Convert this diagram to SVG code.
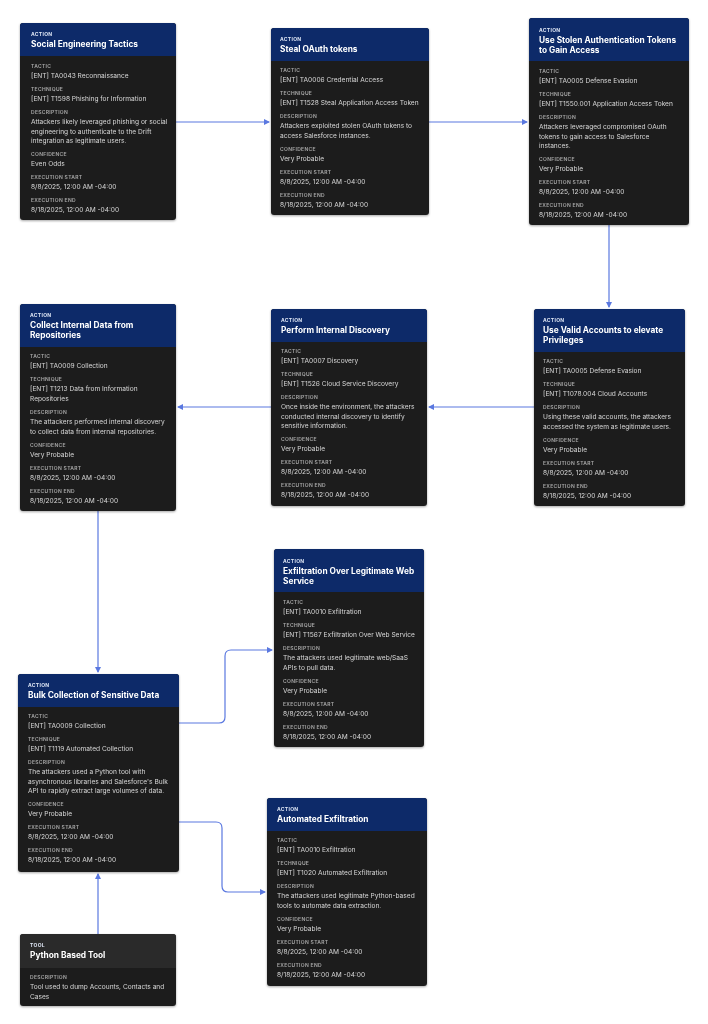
<svg xmlns="http://www.w3.org/2000/svg" width="708" height="1024" viewBox="0 0 708 1024">
<style>
.bg{fill:#1f1f1f}
.hd{fill:#0c2a69}
.th{fill:#2c2c2c}
.k{font-family:Inter,"Liberation Sans",sans-serif;font-size:5px;font-weight:600;fill:#a8a8a8;letter-spacing:.3px}
.kh{font-family:Inter,"Liberation Sans",sans-serif;font-size:5px;font-weight:700;fill:#dfe6f5;letter-spacing:.3px}
.t{font-family:Inter,"Liberation Sans",sans-serif;font-size:8.3px;font-weight:700;fill:#ffffff}
.v{font-family:Inter,"Liberation Sans",sans-serif;font-size:6.6px;fill:#d6d6d6}
.c{fill:none;stroke:#5a78e0;stroke-width:1.2}
</style>
<defs>
<marker id="a" viewBox="0 0 6 6" refX="5" refY="3" markerWidth="5" markerHeight="5" orient="auto"><path d="M0,0L6,3L0,6z" fill="#5a78e0"/></marker>
<filter id="s" x="-10%" y="-10%" width="120%" height="120%"><feDropShadow dx="0" dy="1" stdDeviation="1.2" flood-opacity="0.35"/></filter>
</defs>
<rect width="708" height="1024" fill="#ffffff"/>
<g id="connectors">
<path class="c" d="M176,122H269" marker-end="url(#a)"/>
<path class="c" d="M429,122H527" marker-end="url(#a)"/>
<path class="c" d="M609,225V307" marker-end="url(#a)"/>
<path class="c" d="M534,407H429" marker-end="url(#a)"/>
<path class="c" d="M271,407H178" marker-end="url(#a)"/>
<path class="c" d="M98,511V672" marker-end="url(#a)"/>
<path class="c" d="M179,723H219Q225,723 225,717V656Q225,650 231,650H272" marker-end="url(#a)"/>
<path class="c" d="M179,822H216Q222,822 222,828V886Q222,892 228,892H265" marker-end="url(#a)"/>
<path class="c" d="M98,934V874" marker-end="url(#a)"/>
</g>
<g id="n1" filter="url(#s)">
<rect class="bg" x="20" y="23" width="156" height="197" rx="3"/>
<path class="hd" d="M23,23H173Q176,23 176,26V56H20V26Q20,23 23,23z"/>
<text class="kh" x="31" y="36">ACTION</text><text class="t" x="31" y="47">Social Engineering Tactics</text>
<text class="k" x="31" y="68">TACTIC</text><text class="v" x="31" y="78">[ENT] TA0043 Reconnaissance</text>
<text class="k" x="31" y="91">TECHNIQUE</text><text class="v" x="31" y="101">[ENT] T1598 Phishing for Information</text>
<text class="k" x="31" y="114">DESCRIPTION</text><text class="v" x="31" y="124">Attackers likely leveraged phishing or social</text><text class="v" x="31" y="133.5">engineering to authenticate to the Drift</text><text class="v" x="31" y="143">integration as legitimate users.</text>
<text class="k" x="31" y="156">CONFIDENCE</text><text class="v" x="31" y="166">Even Odds</text>
<text class="k" x="31" y="179">EXECUTION START</text><text class="v" x="31" y="189">8/8/2025, 12:00 AM -04:00</text>
<text class="k" x="31" y="202">EXECUTION END</text><text class="v" x="31" y="212">8/18/2025, 12:00 AM -04:00</text>
</g>
<g id="n2" filter="url(#s)">
<rect class="bg" x="271" y="28" width="158" height="187" rx="3"/>
<path class="hd" d="M274,28H426Q429,28 429,31V61H271V31Q271,28 274,28z"/>
<text class="kh" x="280" y="41">ACTION</text><text class="t" x="280" y="52">Steal OAuth tokens</text>
<text class="k" x="280" y="72">TACTIC</text><text class="v" x="280" y="82">[ENT] TA0006 Credential Access</text>
<text class="k" x="280" y="95">TECHNIQUE</text><text class="v" x="280" y="105">[ENT] T1528 Steal Application Access Token</text>
<text class="k" x="280" y="118">DESCRIPTION</text><text class="v" x="280" y="128">Attackers exploited stolen OAuth tokens to</text><text class="v" x="280" y="137.5">access Salesforce instances.</text>
<text class="k" x="280" y="151">CONFIDENCE</text><text class="v" x="280" y="161">Very Probable</text>
<text class="k" x="280" y="174">EXECUTION START</text><text class="v" x="280" y="184">8/8/2025, 12:00 AM -04:00</text>
<text class="k" x="280" y="197">EXECUTION END</text><text class="v" x="280" y="207">8/18/2025, 12:00 AM -04:00</text>
</g>
<g id="n3" filter="url(#s)">
<rect class="bg" x="529" y="18" width="160" height="207" rx="3"/>
<path class="hd" d="M532,18H686Q689,18 689,21V61H529V21Q529,18 532,18z"/>
<text class="kh" x="539" y="32">ACTION</text><text class="t" x="539" y="43">Use Stolen Authentication Tokens</text><text class="t" x="539" y="53">to Gain Access</text>
<text class="k" x="539" y="73">TACTIC</text><text class="v" x="539" y="83">[ENT] TA0005 Defense Evasion</text>
<text class="k" x="539" y="96">TECHNIQUE</text><text class="v" x="539" y="106">[ENT] T1550.001 Application Access Token</text>
<text class="k" x="539" y="119">DESCRIPTION</text><text class="v" x="539" y="129">Attackers leveraged compromised OAuth</text><text class="v" x="539" y="138.5">tokens to gain access to Salesforce</text><text class="v" x="539" y="148">instances.</text>
<text class="k" x="539" y="161">CONFIDENCE</text><text class="v" x="539" y="171">Very Probable</text>
<text class="k" x="539" y="184">EXECUTION START</text><text class="v" x="539" y="194">8/8/2025, 12:00 AM -04:00</text>
<text class="k" x="539" y="207">EXECUTION END</text><text class="v" x="539" y="217">8/18/2025, 12:00 AM -04:00</text>
</g>
<g id="n4" filter="url(#s)">
<rect class="bg" x="20" y="304" width="156" height="207" rx="3"/>
<path class="hd" d="M23,304H173Q176,304 176,307V347H20V307Q20,304 23,304z"/>
<text class="kh" x="30" y="317">ACTION</text><text class="t" x="30" y="328">Collect Internal Data from</text><text class="t" x="30" y="338">Repositories</text>
<text class="k" x="30" y="358">TACTIC</text><text class="v" x="30" y="368">[ENT] TA0009 Collection</text>
<text class="k" x="30" y="381">TECHNIQUE</text><text class="v" x="30" y="391">[ENT] T1213 Data from Information</text><text class="v" x="30" y="400.5">Repositories</text>
<text class="k" x="30" y="414">DESCRIPTION</text><text class="v" x="30" y="424">The attackers performed internal discovery</text><text class="v" x="30" y="433.5">to collect data from internal repositories.</text>
<text class="k" x="30" y="447">CONFIDENCE</text><text class="v" x="30" y="457">Very Probable</text>
<text class="k" x="30" y="470">EXECUTION START</text><text class="v" x="30" y="480">8/8/2025, 12:00 AM -04:00</text>
<text class="k" x="30" y="493">EXECUTION END</text><text class="v" x="30" y="503">8/18/2025, 12:00 AM -04:00</text>
</g>
<g id="n5" filter="url(#s)">
<rect class="bg" x="271" y="309" width="156" height="197" rx="3"/>
<path class="hd" d="M274,309H424Q427,309 427,312V342H271V312Q271,309 274,309z"/>
<text class="kh" x="281" y="322">ACTION</text><text class="t" x="281" y="333">Perform Internal Discovery</text>
<text class="k" x="281" y="353">TACTIC</text><text class="v" x="281" y="363">[ENT] TA0007 Discovery</text>
<text class="k" x="281" y="376">TECHNIQUE</text><text class="v" x="281" y="386">[ENT] T1526 Cloud Service Discovery</text>
<text class="k" x="281" y="399">DESCRIPTION</text><text class="v" x="281" y="409">Once inside the environment, the attackers</text><text class="v" x="281" y="418.5">conducted internal discovery to identify</text><text class="v" x="281" y="428">sensitive information.</text>
<text class="k" x="281" y="441">CONFIDENCE</text><text class="v" x="281" y="451">Very Probable</text>
<text class="k" x="281" y="464">EXECUTION START</text><text class="v" x="281" y="474">8/8/2025, 12:00 AM -04:00</text>
<text class="k" x="281" y="487">EXECUTION END</text><text class="v" x="281" y="497">8/18/2025, 12:00 AM -04:00</text>
</g>
<g id="n6" filter="url(#s)">
<rect class="bg" x="534" y="309" width="151" height="197" rx="3"/>
<path class="hd" d="M537,309H682Q685,309 685,312V352H534V312Q534,309 537,309z"/>
<text class="kh" x="543" y="322">ACTION</text><text class="t" x="543" y="333">Use Valid Accounts to elevate</text><text class="t" x="543" y="343">Privileges</text>
<text class="k" x="543" y="363">TACTIC</text><text class="v" x="543" y="373">[ENT] TA0005 Defense Evasion</text>
<text class="k" x="543" y="386">TECHNIQUE</text><text class="v" x="543" y="396">[ENT] T1078.004 Cloud Accounts</text>
<text class="k" x="543" y="409">DESCRIPTION</text><text class="v" x="543" y="419">Using these valid accounts, the attackers</text><text class="v" x="543" y="428.5">accessed the system as legitimate users.</text>
<text class="k" x="543" y="442">CONFIDENCE</text><text class="v" x="543" y="452">Very Probable</text>
<text class="k" x="543" y="465">EXECUTION START</text><text class="v" x="543" y="475">8/8/2025, 12:00 AM -04:00</text>
<text class="k" x="543" y="488">EXECUTION END</text><text class="v" x="543" y="498">8/18/2025, 12:00 AM -04:00</text>
</g>
<g id="n7" filter="url(#s)">
<rect class="bg" x="274" y="549" width="150" height="198" rx="3"/>
<path class="hd" d="M277,549H421Q424,549 424,552V592H274V552Q274,549 277,549z"/>
<text class="kh" x="283" y="563">ACTION</text><text class="t" x="283" y="574">Exfiltration Over Legitimate Web</text><text class="t" x="283" y="584">Service</text>
<text class="k" x="283" y="604">TACTIC</text><text class="v" x="283" y="614">[ENT] TA0010 Exfiltration</text>
<text class="k" x="283" y="627">TECHNIQUE</text><text class="v" x="283" y="637">[ENT] T1567 Exfiltration Over Web Service</text>
<text class="k" x="283" y="650">DESCRIPTION</text><text class="v" x="283" y="660">The attackers used legitimate web/SaaS</text><text class="v" x="283" y="669.5">APIs to pull data.</text>
<text class="k" x="283" y="683">CONFIDENCE</text><text class="v" x="283" y="693">Very Probable</text>
<text class="k" x="283" y="706">EXECUTION START</text><text class="v" x="283" y="716">8/8/2025, 12:00 AM -04:00</text>
<text class="k" x="283" y="729">EXECUTION END</text><text class="v" x="283" y="739">8/18/2025, 12:00 AM -04:00</text>
</g>
<g id="n8" filter="url(#s)">
<rect class="bg" x="18" y="674" width="161" height="198" rx="3"/>
<path class="hd" d="M21,674H176Q179,674 179,677V707H18V677Q18,674 21,674z"/>
<text class="kh" x="28" y="687">ACTION</text><text class="t" x="28" y="698">Bulk Collection of Sensitive Data</text>
<text class="k" x="28" y="718">TACTIC</text><text class="v" x="28" y="728">[ENT] TA0009 Collection</text>
<text class="k" x="28" y="741">TECHNIQUE</text><text class="v" x="28" y="751">[ENT] T1119 Automated Collection</text>
<text class="k" x="28" y="764">DESCRIPTION</text><text class="v" x="28" y="774">The attackers used a Python tool with</text><text class="v" x="28" y="783.5">asynchronous libraries and Salesforce's Bulk</text><text class="v" x="28" y="793">API to rapidly extract large volumes of data.</text>
<text class="k" x="28" y="806">CONFIDENCE</text><text class="v" x="28" y="816">Very Probable</text>
<text class="k" x="28" y="829">EXECUTION START</text><text class="v" x="28" y="839">8/8/2025, 12:00 AM -04:00</text>
<text class="k" x="28" y="852">EXECUTION END</text><text class="v" x="28" y="862">8/18/2025, 12:00 AM -04:00</text>
</g>
<g id="n9" filter="url(#s)">
<rect class="bg" x="267" y="798" width="160" height="188" rx="3"/>
<path class="hd" d="M270,798H424Q427,798 427,801V831H267V801Q267,798 270,798z"/>
<text class="kh" x="277" y="811">ACTION</text><text class="t" x="277" y="822">Automated Exfiltration</text>
<text class="k" x="277" y="842">TACTIC</text><text class="v" x="277" y="852">[ENT] TA0010 Exfiltration</text>
<text class="k" x="277" y="865">TECHNIQUE</text><text class="v" x="277" y="875">[ENT] T1020 Automated Exfiltration</text>
<text class="k" x="277" y="888">DESCRIPTION</text><text class="v" x="277" y="898">The attackers used legitimate Python-based</text><text class="v" x="277" y="907.5">tools to automate data extraction.</text>
<text class="k" x="277" y="921">CONFIDENCE</text><text class="v" x="277" y="931">Very Probable</text>
<text class="k" x="277" y="944">EXECUTION START</text><text class="v" x="277" y="954">8/8/2025, 12:00 AM -04:00</text>
<text class="k" x="277" y="967">EXECUTION END</text><text class="v" x="277" y="977">8/18/2025, 12:00 AM -04:00</text>
</g>
<g id="n10" filter="url(#s)">
<rect class="bg" x="20" y="934" width="156" height="72" rx="3"/>
<path class="th" d="M23,934H173Q176,934 176,937V968H20V937Q20,934 23,934z"/>
<text class="kh" x="30" y="947">TOOL</text><text class="t" x="30" y="958">Python Based Tool</text>
<text class="k" x="30" y="979">DESCRIPTION</text><text class="v" x="30" y="989">Tool used to dump Accounts, Contacts and</text><text class="v" x="30" y="998.5">Cases</text>
</g>
</svg>
